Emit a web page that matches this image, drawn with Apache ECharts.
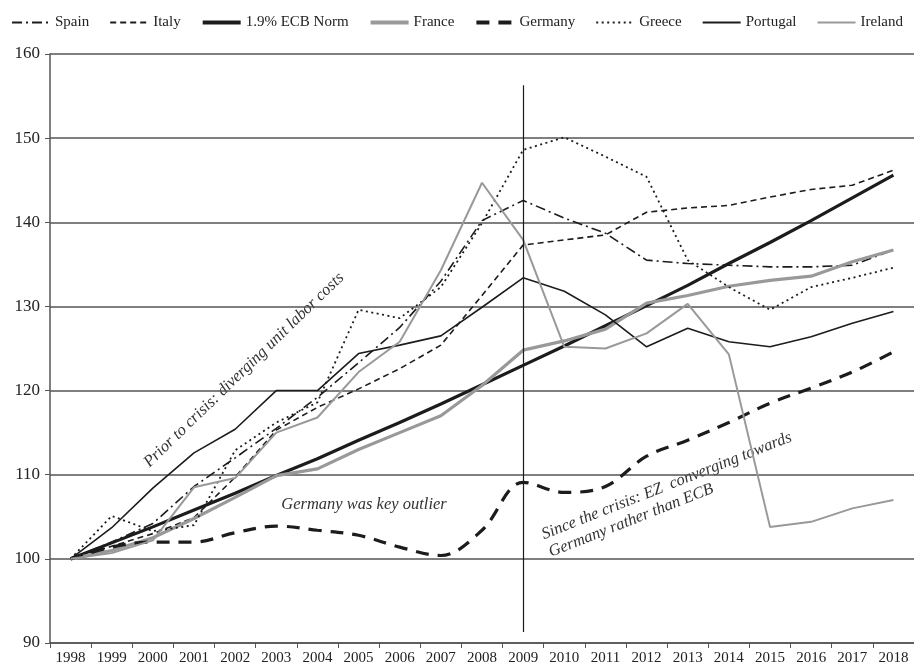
<!DOCTYPE html>
<html>
<head>
<meta charset="utf-8">
<script src="https://cdn.jsdelivr.net/npm/echarts@6/dist/echarts.min.js"></script>
<style>html,body{margin:0;padding:0;background:#fff;}#c{width:914px;height:668px;}</style>
</head>
<body>
<div id="c"></div>
<script>
const years = ['1998','1999','2000','2001','2002','2003','2004','2005','2006','2007','2008','2009','2010','2011','2012','2013','2014','2015','2016','2017','2018'];
const spain    = [100,102.0,104.2,108.6,112.0,115.5,119.2,123.3,127.5,133.0,140.2,142.6,140.5,138.7,135.5,135.1,134.9,134.7,134.7,134.9,136.7];
const italy    = [100,101.5,103.0,104.9,109.7,115.3,118.0,120.2,122.6,125.4,131.3,137.3,137.9,138.5,141.2,141.7,142.0,143.0,143.9,144.4,146.2];
const ecbNorm  = [100,101.9,103.8,105.8,107.8,109.9,111.9,114.1,116.2,118.4,120.7,123.0,125.3,127.7,130.1,132.5,135.1,137.6,140.2,142.9,145.6];
const france   = [100,101.0,102.5,104.8,107.3,109.9,110.7,113.0,115.0,117.0,120.6,124.8,125.9,127.3,130.4,131.3,132.4,133.1,133.6,135.3,136.7];
const germany  = [100,101.4,102.0,102.0,103.1,103.9,103.4,102.8,101.4,100.4,103.4,109.1,107.9,108.6,112.2,114.1,116.2,118.5,120.3,122.2,124.6];
const greece   = [100,105.1,103.3,104.0,112.9,116.2,118.6,129.6,128.6,132.3,139.9,148.6,150.1,147.8,145.4,135.5,132.3,129.6,132.3,133.4,134.6];
const portugal = [100,103.7,108.4,112.6,115.4,120.0,120.0,124.4,125.4,126.5,129.9,133.4,131.8,129.0,125.2,127.4,125.8,125.2,126.4,128.0,129.4];
const ireland  = [100,100.7,102.2,108.5,109.6,115.0,116.8,122.2,125.8,134.3,144.7,137.9,125.2,125.0,126.8,130.3,124.3,103.8,104.4,106.0,107.0];
const yTicks = {min: 90, max: 160, interval: 10};

const FONT = 'Liberation Serif';
const BLACK = '#1c1c1c';
const GRAY = '#999999';

function line(name, data, color, width, type, extra) {
  return Object.assign({
    name: name, type: 'line', data: data, symbol: 'none', showSymbol: false,
    lineStyle: {color: color, width: width, type: type},
    itemStyle: {color: color},
    emphasis: {disabled: true},
    animation: false
  }, extra || {});
}

const chart = echarts.init(document.getElementById('c'), null, {renderer: 'canvas'});
chart.setOption({
  backgroundColor: '#ffffff',
  animation: false,
  legend: {
    top: 10, left: 'center', itemWidth: 38, itemHeight: 10, itemGap: 20,
    itemStyle: {opacity: 0},
    textStyle: {fontFamily: FONT, fontSize: 15, color: '#222'},
    data: [
      {name: 'Spain'},
      {name: 'Italy'},
      {name: '1.9% ECB Norm', lineStyle: {width: 4}},
      {name: 'France', lineStyle: {width: 4}},
      {name: 'Germany', lineStyle: {width: 4}},
      {name: 'Greece'},
      {name: 'Portugal', lineStyle: {width: 2}},
      {name: 'Ireland', lineStyle: {width: 2}}
    ]
  },
  grid: {left: 50, top: 54, width: 867, bottom: 25},
  xAxis: {
    type: 'category', data: years, boundaryGap: true,
    axisLine: {lineStyle: {color: '#555', width: 1.5}},
    axisTick: {show: true, length: 5, lineStyle: {color: '#555'}},
    axisLabel: {fontFamily: FONT, fontSize: 15, color: '#222', margin: 8, interval: 0}
  },
  yAxis: {
    type: 'value', min: yTicks.min, max: yTicks.max, interval: yTicks.interval,
    axisLine: {show: true, lineStyle: {color: '#555', width: 1.5}},
    axisTick: {show: true, length: 5, lineStyle: {color: '#555'}},
    axisLabel: {fontFamily: FONT, fontSize: 17, color: '#222', margin: 10},
    splitLine: {lineStyle: {color: '#555', width: 1.5}}
  },
  series: [
    line('Spain', spain, BLACK, 1.6, [10,4,2,4]),
    line('Italy', italy, BLACK, 1.6, [6,4]),
    line('1.9% ECB Norm', ecbNorm, BLACK, 3.2, 'solid'),
    line('France', france, GRAY, 3.2, 'solid'),
    line('Germany', germany, BLACK, 3.2, [13,9], {smooth: 0.35}),
    line('Greece', greece, BLACK, 1.8, [2,3.5]),
    line('Portugal', portugal, BLACK, 1.6, 'solid', {
      markLine: {
        silent: true, symbol: ['none','none'], label: {show: false},
        lineStyle: {color: BLACK, width: 1.2, type: 'solid'},
        data: [[{coord: ['2009', 156.3]}, {coord: ['2009', 91.3]}]]
      }
    }),
    line('Ireland', ireland, GRAY, 2, 'solid')
  ],
  graphic: [
    {type: 'text', x: 244, y: 370, rotation: 0.77,
     style: {text: 'Prior to crisis: diverging unit labor costs', fontFamily: FONT, fontStyle: 'italic', fontSize: 16.5, fill: '#333', align: 'center', verticalAlign: 'middle'}},
    {type: 'text', x: 364, y: 505,
     style: {text: 'Germany was key outlier', fontFamily: FONT, fontStyle: 'italic', fontSize: 16.5, fill: '#333', align: 'center', verticalAlign: 'middle'}},
    {type: 'text', x: 546, y: 544, rotation: 0.377,
     style: {text: 'Since the crisis: EZ  converging towards\nGermany rather than ECB', fontFamily: FONT, fontStyle: 'italic', fontSize: 16.5, lineHeight: 19, fill: '#333', align: 'left', verticalAlign: 'middle'}}
  ]
});
</script>
</body>
</html>
